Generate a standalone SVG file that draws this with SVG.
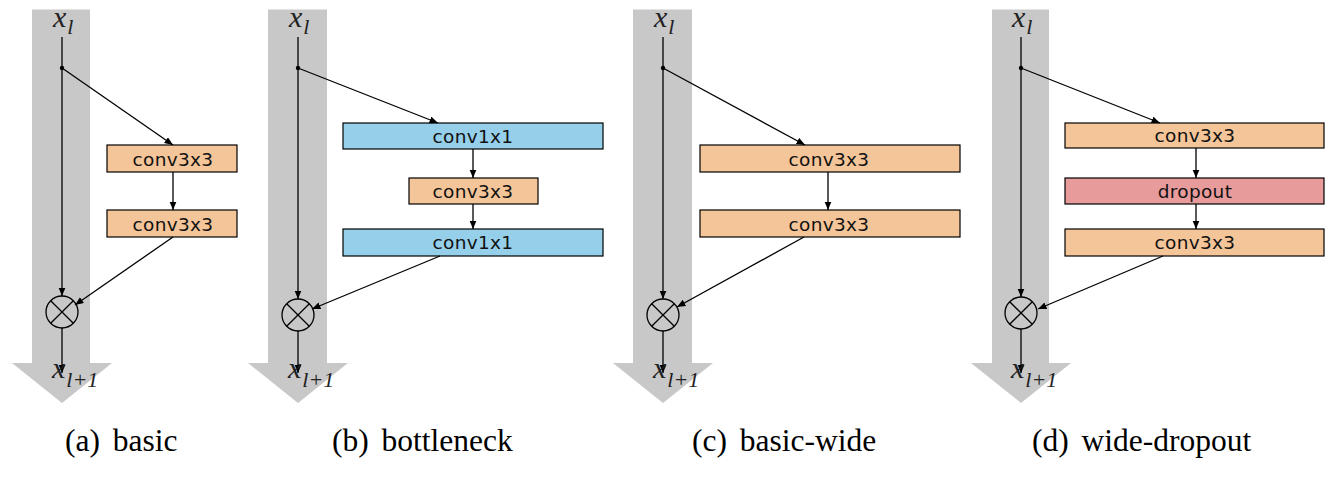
<svg xmlns="http://www.w3.org/2000/svg" width="1335" height="477" viewBox="0 0 1335 477">
<defs>
<marker id="arr" markerUnits="userSpaceOnUse" markerWidth="9" markerHeight="8" refX="8.5" refY="3.5" orient="auto">
<path d="M0,0 L8.5,3.5 L0,7 z" fill="#000"/>
</marker>
</defs>
<style>
.band{fill:#c8c8c8}
.box{stroke:#000;stroke-width:1.2}
.orange{fill:#f4c598}
.blue{fill:#95cfe9}
.red{fill:#e89b9b}
.lbl{font-family:"DejaVu Sans",sans-serif;font-size:18.5px;letter-spacing:0.3px;fill:#111;text-anchor:middle}
.var{font-family:"Liberation Serif",serif;font-style:italic;font-size:30px;fill:#222}
.sub{font-size:22px}
.cap{font-family:"Liberation Serif",serif;font-size:31.5px;fill:#000}
.edge{stroke:#000;stroke-width:1.3;fill:none}
.arrow{marker-end:url(#arr)}
.sum{fill:none;stroke:#000;stroke-width:1.3}
</style>
<rect width="1335" height="477" fill="#fff"/>

<!-- backgrounds: gray arrows -->
<g id="band-a"><rect class="band" x="32" y="9.5" width="58" height="354"/><polygon class="band" points="12,363 112,363 62,403"/></g>
<g id="band-b"><rect class="band" x="268" y="9.5" width="59" height="354"/><polygon class="band" points="248,363 348,363 298,403"/></g>
<g id="band-c"><rect class="band" x="633" y="9.5" width="59" height="354"/><polygon class="band" points="613,363 713,363 663,403"/></g>
<g id="band-d"><rect class="band" x="992" y="9.5" width="57" height="354"/><polygon class="band" points="971,363 1071,363 1021,403"/></g>

<!-- panel a nodes -->
<g id="a-conv1"><rect class="box orange" x="107" y="145" width="130" height="27"/><text class="lbl" x="173" y="166">conv3x3</text></g>
<g id="a-conv2"><rect class="box orange" x="107" y="210" width="130" height="27"/><text class="lbl" x="173" y="231">conv3x3</text></g>
<g id="a-sum"><circle class="sum" cx="62" cy="312" r="16"/><path class="sum" d="M50.7,300.7 L73.3,323.3 M73.3,300.7 L50.7,323.3"/></g>

<!-- panel b nodes -->
<g id="b-conv1"><rect class="box blue" x="343" y="123" width="260" height="26"/><text class="lbl" x="473" y="142.5">conv1x1</text></g>
<g id="b-conv2"><rect class="box orange" x="409" y="178" width="129" height="26"/><text class="lbl" x="473" y="197.5">conv3x3</text></g>
<g id="b-conv3"><rect class="box blue" x="343" y="229" width="260" height="27"/><text class="lbl" x="473" y="249">conv1x1</text></g>
<g id="b-sum"><circle class="sum" cx="298" cy="315" r="16"/><path class="sum" d="M286.7,303.7 L309.3,326.3 M309.3,303.7 L286.7,326.3"/></g>

<!-- panel c nodes -->
<g id="c-conv1"><rect class="box orange" x="700" y="145" width="260" height="27"/><text class="lbl" x="829" y="166">conv3x3</text></g>
<g id="c-conv2"><rect class="box orange" x="700" y="210" width="260" height="27"/><text class="lbl" x="829" y="231">conv3x3</text></g>
<g id="c-sum"><circle class="sum" cx="663" cy="315" r="16"/><path class="sum" d="M651.7,303.7 L674.3,326.3 M674.3,303.7 L651.7,326.3"/></g>

<!-- panel d nodes -->
<g id="d-conv1"><rect class="box orange" x="1065" y="123" width="259" height="25"/><text class="lbl" x="1195" y="142">conv3x3</text></g>
<g id="d-drop"><rect class="box red" x="1065" y="178" width="259" height="26"/><text class="lbl" x="1195" y="197.5">dropout</text></g>
<g id="d-conv2"><rect class="box orange" x="1065" y="229" width="259" height="27"/><text class="lbl" x="1195" y="249">conv3x3</text></g>
<g id="d-sum"><circle class="sum" cx="1021" cy="313" r="16"/><path class="sum" d="M1009.7,301.7 L1032.3,324.3 M1032.3,301.7 L1009.7,324.3"/></g>

<!-- connectors -->
<g id="connectors">
<!-- a -->
<line class="edge arrow" x1="62" y1="37" x2="62" y2="296"/>
<circle cx="62" cy="68" r="2.2" fill="#000"/>
<line class="edge arrow" x1="62" y1="68" x2="173" y2="145"/>
<line class="edge arrow" x1="173" y1="172" x2="173" y2="210"/>
<line class="edge arrow" x1="173" y1="237" x2="75" y2="305"/>
<line class="edge arrow" x1="62" y1="328" x2="62" y2="373"/>
<!-- b -->
<line class="edge arrow" x1="298" y1="37" x2="298" y2="299"/>
<circle cx="298" cy="68" r="2.2" fill="#000"/>
<line class="edge arrow" x1="298" y1="68" x2="438" y2="123"/>
<line class="edge arrow" x1="473" y1="149" x2="473" y2="178"/>
<line class="edge arrow" x1="473" y1="204" x2="473" y2="229"/>
<line class="edge arrow" x1="440" y1="256" x2="312" y2="309"/>
<line class="edge arrow" x1="298" y1="331" x2="298" y2="373"/>
<!-- c -->
<line class="edge arrow" x1="663" y1="37" x2="663" y2="299"/>
<circle cx="663" cy="68" r="2.2" fill="#000"/>
<line class="edge arrow" x1="663" y1="68" x2="805" y2="145"/>
<line class="edge arrow" x1="828" y1="172" x2="828" y2="210"/>
<line class="edge arrow" x1="804" y1="237" x2="677" y2="307"/>
<line class="edge arrow" x1="663" y1="331" x2="663" y2="373"/>
<!-- d -->
<line class="edge arrow" x1="1021" y1="37" x2="1021" y2="297"/>
<circle cx="1021" cy="68" r="2.2" fill="#000"/>
<line class="edge arrow" x1="1021" y1="68" x2="1160" y2="123"/>
<line class="edge arrow" x1="1196" y1="148" x2="1196" y2="178"/>
<line class="edge arrow" x1="1196" y1="204" x2="1196" y2="229"/>
<line class="edge arrow" x1="1163" y1="256" x2="1038" y2="309"/>
<line class="edge arrow" x1="1021" y1="329" x2="1021" y2="373"/>
</g>

<!-- variable labels -->
<g id="labels">
<text class="var" x="53" y="27">x<tspan class="sub" dx="1" dy="7">l</tspan></text>
<text class="var" x="52" y="378">x<tspan class="sub" dx="1" dy="9">l+1</tspan></text>
<text class="var" x="289" y="27">x<tspan class="sub" dx="1" dy="7">l</tspan></text>
<text class="var" x="288" y="378">x<tspan class="sub" dx="1" dy="9">l+1</tspan></text>
<text class="var" x="654" y="27">x<tspan class="sub" dx="1" dy="7">l</tspan></text>
<text class="var" x="653" y="378">x<tspan class="sub" dx="1" dy="9">l+1</tspan></text>
<text class="var" x="1012" y="27">x<tspan class="sub" dx="1" dy="7">l</tspan></text>
<text class="var" x="1011" y="378">x<tspan class="sub" dx="1" dy="9">l+1</tspan></text>
</g>

<!-- captions -->
<g id="captions">
<text class="cap" x="65" y="451">(a)<tspan dx="5"> basic</tspan></text>
<text class="cap" x="332" y="451">(b)<tspan dx="5"> bottleneck</tspan></text>
<text class="cap" x="692" y="451">(c)<tspan dx="5"> basic-wide</tspan></text>
<text class="cap" x="1032" y="451">(d)<tspan dx="5"> wide-dropout</tspan></text>
</g>
</svg>
